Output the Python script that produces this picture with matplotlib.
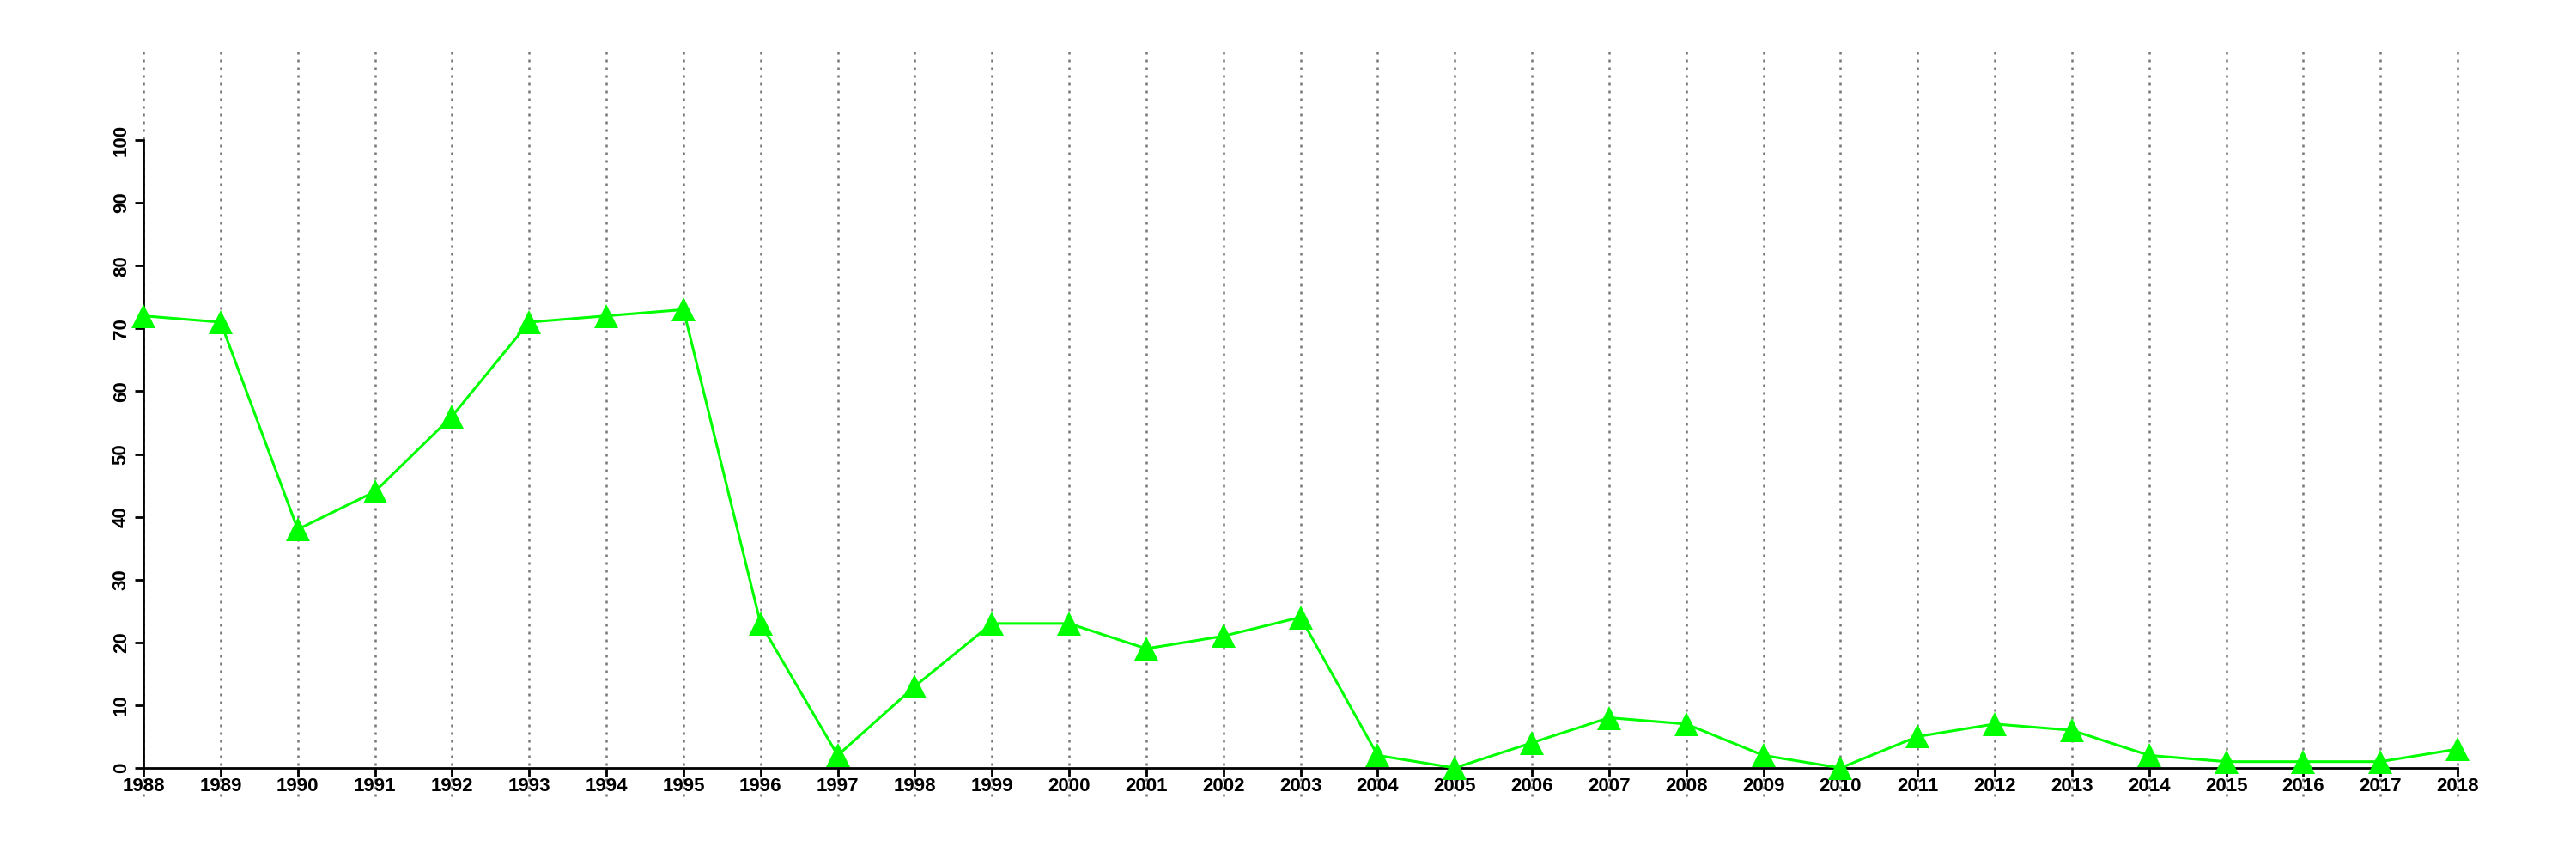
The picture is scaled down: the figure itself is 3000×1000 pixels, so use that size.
import matplotlib
matplotlib.use("Agg")
import matplotlib.pyplot as plt
import numpy as np

years = list(range(1988, 2019))
values = [72, 71, 38, 44, 56, 71, 72, 73, 23, 2, 13, 23, 23, 19, 21, 24,
          2, 0, 4, 8, 7, 2, 0, 5, 7, 6, 2, 1, 1, 1, 3]
y_ticks = [0, 10, 20, 30, 40, 50, 60, 70, 80, 90, 100]

plt.rcParams["font.family"] = ["Liberation Sans", "DejaVu Sans"]

fig = plt.figure(figsize=(30, 10), dpi=100)
ax = fig.add_axes([0.0557, 0.106, 0.8983, 0.731])

# vertical dotted guides run past the plot area
for yr in years:
    ax.plot([yr, yr], [-4.5, 114.5], color="#777777", lw=1.8,
            linestyle=(0, (1.2, 2.4)), clip_on=False, zorder=1)

ax.plot(years, values, color="#00ff00", lw=2.2, marker="^", markersize=20,
        markeredgewidth=0, clip_on=False, zorder=3)

ax.set_xlim(1988, 2018)
ax.set_ylim(0, 100)
ax.set_xticks(years)
ax.set_xticklabels([str(y) for y in years])
ax.set_yticks(y_ticks)
ax.set_yticklabels([str(v) for v in y_ticks], rotation=90, va="center")

for side in ("top", "right"):
    ax.spines[side].set_visible(False)
for side in ("left", "bottom"):
    ax.spines[side].set_linewidth(2)
ax.tick_params(axis="both", direction="out", length=7, width=2,
               labelsize=16)
ax.tick_params(axis="x", pad=1)
ax.tick_params(axis="y", pad=4)
for lbl in ax.get_xticklabels() + ax.get_yticklabels():
    lbl.set_fontweight("bold")

fig.savefig("out.png")
plt.close(fig)
